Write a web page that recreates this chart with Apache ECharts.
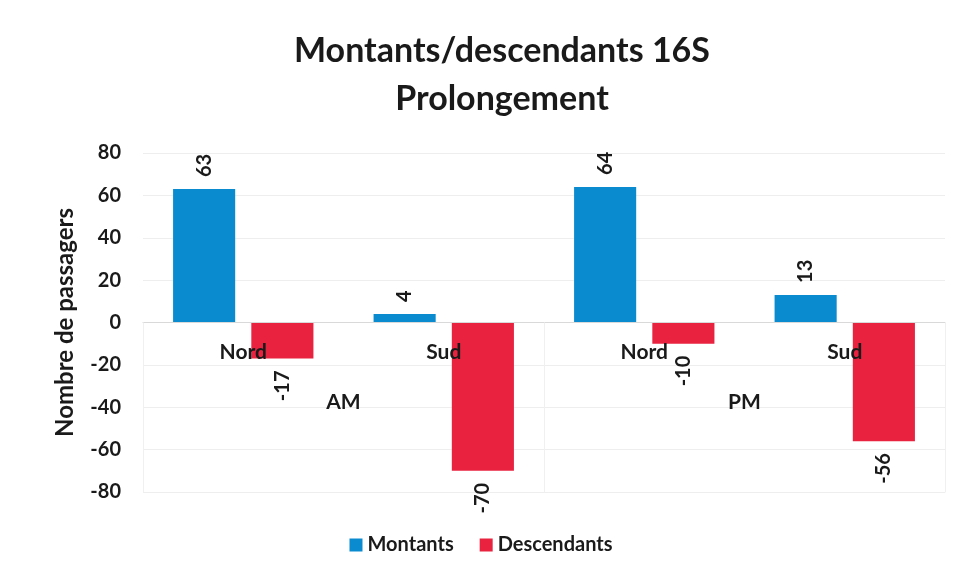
<!DOCTYPE html>
<html>
<head>
<meta charset="utf-8">
<script src="https://cdn.jsdelivr.net/npm/echarts@6/dist/echarts.min.js"></script>
<style>html,body{margin:0;padding:0;background:#fff}#c{width:962px;height:582px}</style>
</head>
<body>
<div id="c"></div>
<script>
var categories = ['Nord', 'Sud', 'Nord', 'Sud'];
var groups = ['AM', 'PM'];
var montants = [63, 4, 64, 13];
var descendants = [-17, -70, -10, -56];
var yTicks = [-80, -60, -40, -20, 0, 20, 40, 60, 80];

var FONT = 'Lato, "Open Sans", sans-serif';
function mk(values) {
  return values.map(function (v) {
    var pos = v >= 0;
    return {
      value: v,
      label: {
        position: pos ? 'top' : 'bottom',
        align: pos ? 'left' : 'right',
        verticalAlign: 'middle'
      }
    };
  });
}
var labelCommon = {
  show: true, rotate: 90, distance: 12,
  color: '#1a1a1a', fontWeight: 'bold', fontSize: 20, fontFamily: FONT
};
var GT = 153, GB = 90, H = 582;
var zeroOffset = -((H - GB) - (GT + (H - GB - GT) / 2));
var gridRect = { left: 143, right: 17, top: GT, bottom: GB, containLabel: false };
var chart = echarts.init(document.getElementById('c'));
chart.setOption({
  backgroundColor: '#fff',
  title: {
    text: 'Montants/descendants 16S\nProlongement',
    left: 497, textAlign: 'center', top: 22,
    textStyle: { fontSize: 34, fontWeight: 'bold', color: '#1a1a1a', lineHeight: 48, fontFamily: FONT }
  },
  legend: {
    bottom: 22, left: 'center', itemWidth: 13, itemHeight: 13, itemGap: 26,
    icon: 'rect',
    textStyle: { fontSize: 20, fontWeight: 'bold', color: '#1a1a1a', fontFamily: FONT },
    data: ['Montants', 'Descendants']
  },
  grid: [gridRect, Object.assign({}, gridRect)],
  xAxis: [{
    type: 'category', data: categories, gridIndex: 0, position: 'bottom', offset: zeroOffset,
    axisLine: { onZero: false, lineStyle: { color: '#d9d9d9' } },
    axisTick: { show: false },
    axisLabel: { margin: 19, fontSize: 21, fontWeight: 'bold', color: '#1a1a1a', fontFamily: FONT },
    z: 10
  }, {
    type: 'category', data: groups, gridIndex: 1, position: 'bottom', offset: zeroOffset,
    axisLine: { onZero: false, show: false },
    axisTick: { show: true, length: 170, lineStyle: { color: '#f0f0f0' } },
    axisLabel: { margin: 69, fontSize: 21, fontWeight: 'bold', color: '#1a1a1a', fontFamily: FONT },
    z: 10
  }],
  yAxis: [{
    type: 'value', min: -80, max: 80, interval: 20, gridIndex: 0,
    name: 'Nombre de passagers', nameLocation: 'middle', nameGap: 66, nameRotate: 90,
    nameTextStyle: { fontSize: 24, fontWeight: 'bold', color: '#1a1a1a', fontFamily: FONT },
    axisLine: { show: false }, axisTick: { show: false },
    axisLabel: { margin: 22, fontSize: 20, fontWeight: 'bold', color: '#1a1a1a', fontFamily: FONT,
      formatter: function (v) { return yTicks.indexOf(v) >= 0 ? String(v) : ''; } },
    splitLine: { lineStyle: { color: '#eeeeee' } }
  }, {
    type: 'value', min: -80, max: 80, interval: 20, gridIndex: 1, show: false
  }],
  series: [{
    name: 'Montants', type: 'bar', xAxisIndex: 0, yAxisIndex: 0, data: mk(montants),
    barGap: '26%', barCategoryGap: '30%',
    itemStyle: { color: '#0a8bcf' }, label: labelCommon
  }, {
    name: 'Descendants', type: 'bar', xAxisIndex: 0, yAxisIndex: 0, data: mk(descendants),
    itemStyle: { color: '#e8223f' }, label: labelCommon
  }]
});
</script>
</body>
</html>
